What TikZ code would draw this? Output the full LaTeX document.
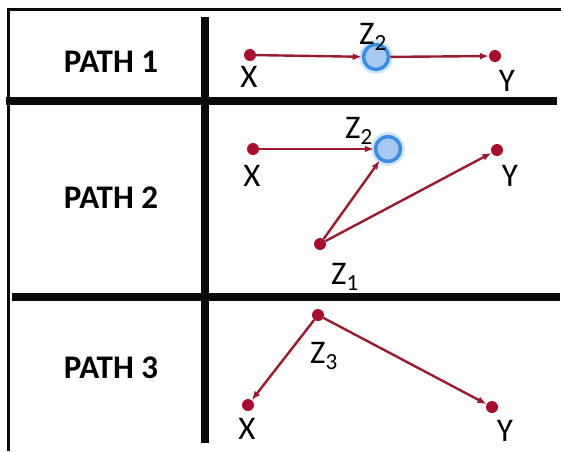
\documentclass[tikz,border=0pt]{standalone}
\usepackage{fontspec}
\setmainfont{Carlito}
\usetikzlibrary{arrows.meta}
\definecolor{pathred}{HTML}{9A1A30}
\definecolor{dotred}{HTML}{A50F2D}
\definecolor{hubblue}{HTML}{3A8DE2}
\definecolor{hubfill}{HTML}{A9C8F0}
\definecolor{hubglow}{HTML}{9CC7F2}
\definecolor{ruledark}{HTML}{0A0A0A}

\begin{document}
\begin{tikzpicture}[
    x=1pt, y=-1pt,
    rule/.style={line width=7.5pt, ruledark},
    frame/.style={line width=3pt, ruledark},
    dot/.style={circle, fill=dotred, minimum size=12pt, inner sep=0pt},
    hub/.style={circle, draw=hubblue, line width=3.5pt, fill=hubfill, minimum size=25pt, inner sep=0pt,
        preaction={draw=hubglow, line width=9pt, opacity=0.45}},
    link/.style={line width=2.4pt, pathred},
    lbl/.style={font=\fontsize{33}{38}\selectfont, inner sep=0pt},
    head/.style={font=\fontsize{33}{38}\selectfont\bfseries, inner sep=0pt},
    >={Latex[length=9pt, width=7pt]}
]
\useasboundingbox (0,0) rectangle (565,451);

% Frame
\draw[frame] (8,451) -- (8,9.5) -- (561,9.5);

% Rules
\draw[rule] (6,101) -- (557,101);
\draw[rule] (12,297) -- (560,297);
\draw[rule] (205,17) -- (205,443);

% Row titles
\node[head] (P1) at (111,62) {PATH 1};
\node[head] (P2) at (111,198) {PATH 2};
\node[head] (P3) at (111,368) {PATH 3};

% Path 1
\node[dot] (Xa) at (250,55) {};
\node[hub] (Za) at (376,57) {};
\node[dot] (Ya) at (495,56) {};
\draw[->, link] (Xa) -- (Za);
\draw[->, link] (Za) -- (Ya);
\node[lbl, anchor=base] (XaL) at (249,87) {X};
\node[lbl, anchor=base] (YaL) at (507,91) {Y};
\node[lbl, anchor=base west] (ZaL) at (359,44) {Z\textsubscript{2}};

% Path 2
\node[dot] (Xb) at (253,149) {};
\node[hub] (Zb) at (388,149) {};
\node[dot] (Yb) at (497,150) {};
\node[dot] (Wb) at (320,244) {};
\draw[->, link] (Xb) -- (Zb);
\draw[->, link] (Wb) -- (Zb);
\draw[->, link] (Wb) -- (Yb);
\node[lbl, anchor=base] (XbL) at (252,186) {X};
\node[lbl, anchor=base] (YbL) at (510,186) {Y};
\node[lbl, anchor=base west] (ZbL) at (345,138) {Z\textsubscript{2}};
\node[lbl, anchor=base west] (WbL) at (331,284) {Z\textsubscript{1}};

% Path 3
\node[dot] (Vc) at (318,315) {};
\node[dot] (Xc) at (248,405) {};
\node[dot] (Yc) at (492,407) {};
\draw[->, link] (Vc) -- (Xc);
\draw[->, link] (Vc) -- (Yc);
\node[lbl, anchor=base] (XcL) at (247,439) {X};
\node[lbl, anchor=base] (YcL) at (505,441) {Y};
\node[lbl, anchor=base west] (VcL) at (310,363) {Z\textsubscript{3}};

\end{tikzpicture}
\end{document}
